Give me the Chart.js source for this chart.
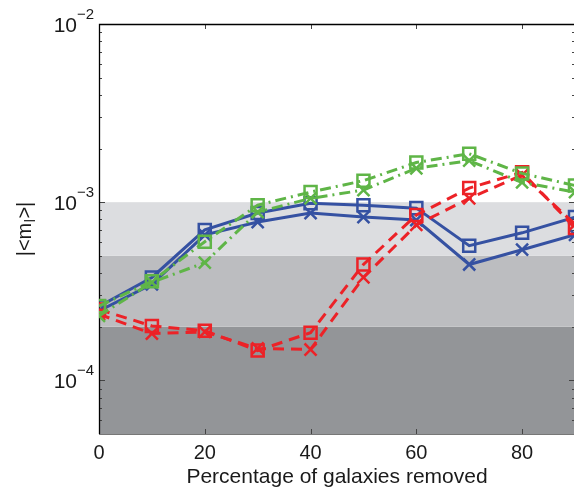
<!DOCTYPE html>
<html>
<head>
<meta charset="utf-8">
<script src="https://cdn.jsdelivr.net/npm/chart.js@4.4.0/dist/chart.umd.min.js"></script>
<style>
  html, body { margin: 0; padding: 0; background: #fff; overflow: hidden; }
  #chart { display: block; }
</style>
</head>
<body>
<canvas id="chart" width="576" height="489" style="width:576px;height:489px"></canvas>
<script>
// --- data ---
const percentRemoved = [0, 10, 20, 30, 40, 50, 60, 70, 80, 90];

const blueSquares = [2.6e-4, 3.78e-4, 6.99e-4, 8.69e-4, 9.87e-4, 9.62e-4, 9.26e-4, 5.7e-4, 6.73e-4, 8.25e-4];
const blueCrosses = [2.45e-4, 3.46e-4, 6.56e-4, 7.74e-4, 8.69e-4, 8.25e-4, 7.94e-4, 4.47e-4, 5.41e-4, 6.56e-4];

const greenSquares = [2.61e-4, 3.6e-4, 6.0e-4, 9.62e-4, 1.14e-3, 1.32e-3, 1.67e-3, 1.87e-3, 1.45e-3, 1.24e-3];
const greenCrosses = [2.3e-4, 3.55e-4, 4.58e-4, 8.8e-4, 1.05e-3, 1.17e-3, 1.55e-3, 1.71e-3, 1.29e-3, 1.14e-3];

const redSquares = [2.5e-4, 2.02e-4, 1.9e-4, 1.47e-4, 1.85e-4, 4.47e-4, 8.47e-4, 1.2e-3, 1.47e-3, 7.17e-4];
const redCrosses = [2.35e-4, 1.83e-4, 1.87e-4, 1.51e-4, 1.49e-4, 3.78e-4, 7.45e-4, 1.05e-3, 1.42e-3, 7.5e-4];

// axis ticks / labels
const xTickValues = [0, 20, 40, 60, 80];
const yDecades = [1e-4, 1e-3, 1e-2];
const yDecadeExps = ['\u22124', '\u22123', '\u22122'];
const yMinorTicks = [6e-5, 7e-5, 8e-5, 9e-5,
  2e-4, 3e-4, 4e-4, 5e-4, 6e-4, 7e-4, 8e-4, 9e-4,
  2e-3, 3e-3, 4e-3, 5e-3, 6e-3, 7e-3, 8e-3, 9e-3];

// shaded bands (lower edges .. upper edges)
const bandEdges = [5e-5, 2e-4, 5e-4, 1e-3];
const bandColors = ['#939598', '#bcbdc0', '#dcdde0'];

const BLUE = '#3551a2';
const GREEN = '#5fb547';
const RED = '#ec2227';
const FONT = '"Liberation Sans", Arial, Helvetica, sans-serif';

const toXY = arr => arr.map((v, i) => ({ x: percentRemoved[i], y: v }));

function series(data, color, style, dash) {
  return {
    data: toXY(data),
    borderColor: color,
    backgroundColor: 'rgba(0,0,0,0)',
    borderWidth: 3,
    borderDash: dash,
    pointStyle: style,
    pointRadius: 8.5,
    pointBorderWidth: 2.5,
    pointBorderColor: color,
    pointBackgroundColor: 'rgba(0,0,0,0)',
    tension: 0,
    fill: false
  };
}

const dashDot = [11, 5, 2, 5];
const dashed = [11, 7];

// axes, shading and labels drawn through the scales
const frame = {
  id: 'frame',
  beforeDatasetsDraw(chart) {
    const { ctx, chartArea: a, scales: { x, y } } = chart;
    ctx.save();
    for (let i = 0; i < bandColors.length; i++) {
      const top = y.getPixelForValue(bandEdges[i + 1]);
      const bot = y.getPixelForValue(bandEdges[i]);
      ctx.fillStyle = bandColors[i];
      ctx.fillRect(a.left, top, a.right - a.left, bot - top);
    }

    ctx.strokeStyle = '#444';
    ctx.lineWidth = 1;
    ctx.beginPath();
    yMinorTicks.forEach(v => {
      const py = Math.round(y.getPixelForValue(v)) + 0.5;
      ctx.moveTo(a.left, py); ctx.lineTo(a.left + 3, py);
      ctx.moveTo(a.right, py); ctx.lineTo(a.right - 3, py);
    });
    yDecades.forEach(v => {
      const py = Math.round(y.getPixelForValue(v)) + 0.5;
      ctx.moveTo(a.left, py); ctx.lineTo(a.left + 6, py);
      ctx.moveTo(a.right, py); ctx.lineTo(a.right - 6, py);
    });
    xTickValues.forEach(v => {
      const px = Math.round(x.getPixelForValue(v)) + 0.5;
      ctx.moveTo(px, a.bottom); ctx.lineTo(px, a.bottom - 5);
      ctx.moveTo(px, a.top); ctx.lineTo(px, a.top + 5);
    });
    ctx.stroke();

    ctx.strokeStyle = '#777';
    ctx.beginPath();
    ctx.moveTo(a.left, a.bottom + 0.5); ctx.lineTo(a.right, a.bottom + 0.5);
    ctx.stroke();

    ctx.strokeStyle = '#000';
    ctx.lineWidth = 1.3;
    ctx.beginPath();
    ctx.moveTo(a.left + 0.5, a.bottom); ctx.lineTo(a.left + 0.5, a.top + 0.5);
    ctx.lineTo(a.right, a.top + 0.5);
    ctx.stroke();
    ctx.restore();
  },
  afterDraw(chart) {
    const { ctx, chartArea: a, scales: { x, y } } = chart;
    ctx.save();
    ctx.fillStyle = '#1a1a1a';

    // x tick labels
    ctx.font = '20px ' + FONT;
    ctx.textAlign = 'center';
    ctx.textBaseline = 'alphabetic';
    xTickValues.forEach(v => {
      ctx.fillText(String(v), x.getPixelForValue(v), a.bottom + 25);
    });

    // y tick labels 10^n
    yDecades.forEach((v, i) => {
      const py = y.getPixelForValue(v);
      ctx.font = '21px ' + FONT;
      ctx.textAlign = 'right';
      ctx.fillText('10', 77, py + 8);
      ctx.font = '15px ' + FONT;
      ctx.textAlign = 'left';
      ctx.fillText(yDecadeExps[i], 77, py - 5);
    });

    // x title
    ctx.font = '21px ' + FONT;
    ctx.textAlign = 'center';
    ctx.fillText('Percentage of galaxies removed', (a.left + a.right) / 2, 483);

    // y title |<m_l>|
    ctx.translate(31, 229);
    ctx.rotate(-Math.PI / 2);
    ctx.textAlign = 'left';
    const big = '20px ' + FONT, small = '14px ' + FONT;
    ctx.font = big;
    const w1 = ctx.measureText('|<m').width;
    const w3 = ctx.measureText('>|').width;
    ctx.font = small;
    const w2 = ctx.measureText('l').width + 1;
    let cx = -(w1 + w2 + w3) / 2;
    ctx.font = big;
    ctx.fillText('|<m', cx, 0);
    cx += w1;
    ctx.font = small;
    ctx.fillText('l', cx + 0.5, 4);
    cx += w2;
    ctx.font = big;
    ctx.fillText('>|', cx, 0);
    ctx.restore();
  }
};

new Chart(document.getElementById('chart'), {
  type: 'line',
  data: {
    datasets: [
      series(greenSquares, GREEN, 'rect', dashDot),
      series(greenCrosses, GREEN, 'crossRot', dashDot),
      series(redSquares, RED, 'rect', dashed),
      series(redCrosses, RED, 'crossRot', dashed),
      series(blueSquares, BLUE, 'rect', []),
      series(blueCrosses, BLUE, 'crossRot', [])
    ]
  },
  options: {
    responsive: false,
    devicePixelRatio: 1,
    animation: false,
    events: [],
    layout: { autoPadding: false, padding: { left: 99, top: 24, right: 1, bottom: 55 } },
    scales: {
      x: { type: 'linear', min: 0, max: 90, display: false },
      y: { type: 'logarithmic', min: 5e-5, max: 1e-2, display: false }
    },
    plugins: {
      legend: { display: false },
      tooltip: { enabled: false }
    }
  },
  plugins: [frame]
});
</script>
</body>
</html>
